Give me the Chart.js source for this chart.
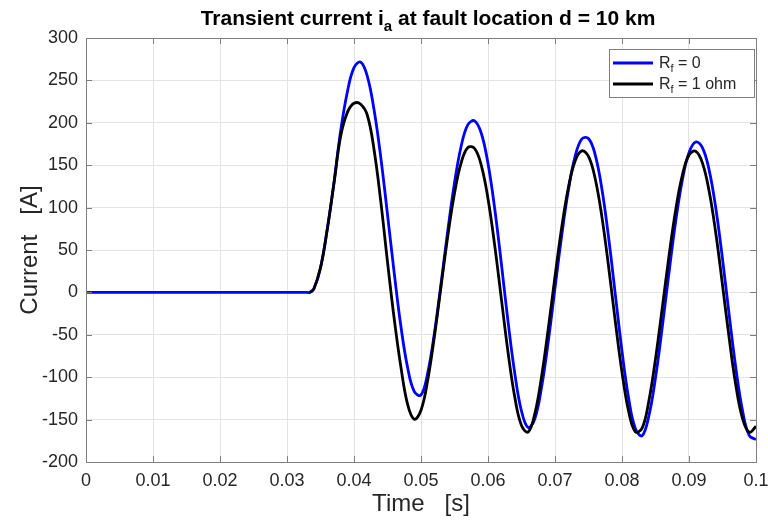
<!DOCTYPE html>
<html>
<head>
<meta charset="utf-8">
<script src="https://cdn.jsdelivr.net/npm/chart.js@4"></script>
<style>
  html, body { margin: 0; padding: 0; background: #fff; }
  canvas { display: block; }
</style>
</head>
<body>
<canvas id="faultChart" width="768" height="520"></canvas>
<script>
// values
const xTicks = [0, 0.01, 0.02, 0.03, 0.04, 0.05, 0.06, 0.07, 0.08, 0.09, 0.1];
const yTicks = [-200, -150, -100, -50, 0, 50, 100, 150, 200, 250, 300];

// time [s]
const time = [0, 0.01, 0.02, 0.03, 0.033, 0.0334,
  0.034, 0.035, 0.036, 0.037, 0.038, 0.039, 0.040, 0.041, 0.042, 0.043, 0.044, 0.045, 0.046, 0.047, 0.048, 0.049,
  0.050, 0.051, 0.052, 0.053, 0.054, 0.055, 0.056, 0.057, 0.058, 0.059, 0.060, 0.061, 0.062, 0.063, 0.064, 0.065,
  0.066, 0.067, 0.068, 0.069, 0.070, 0.071, 0.072, 0.073, 0.074, 0.075, 0.076, 0.077, 0.078, 0.079, 0.080, 0.081,
  0.082, 0.083, 0.084, 0.085, 0.086, 0.087, 0.088, 0.089, 0.090, 0.091, 0.092, 0.093, 0.094, 0.095, 0.096, 0.097,
  0.098, 0.099, 0.100];

// Rf = 0 (blue), whole record
const currentRf0 = [0, 0, 0, 0, 0, 0,
  4, 29, 74, 129, 190, 236, 265, 271.5, 254.5, 215, 159, 92, 23, -40, -88.6, -117,
  -121, -95, -48, 11, 73, 129, 172.6, 197.8, 202.3, 187.7, 152, 99, 33.5, -35, -95.6, -140,
  -159.4, -148.7, -111.5, -57.7, 5, 67, 120.6, 160.3, 180.9, 181.5, 162.3, 122, 64.7, -2.3, -69.3, -125.2,
  -160.7, -169.1, -146, -100.6, -41.5, 22.5, 83, 132.3, 164.8, 177.4, 170.8, 144.5, 99.2, 39.5, -26.7, -89.7,
  -140, -169, -173.5];

// Rf = 1 ohm (black), starts at the fault instant
const currentRf1 = [null, null, null, null, null, 0,
  4, 29, 74, 128, 184, 212, 223, 221.8, 208.6, 168, 107, 36, -31, -88, -132, -149.5,
  -139, -103.6, -52, 7.6, 66.4, 116.8, 153, 170.9, 169.7, 149.8, 110.5, 55.4, -8, -71.2, -123.6, -157,
  -164.6, -142.7, -99, -42.6, 18.7, 76.5, 123.7, 154.9, 166.9, 160.3, 134.1, 89.1, 30.2, -34.2, -94.3, -140.7,
  -164.4, -160.1, -128.4, -78.4, -18.8, 42.2, 96.7, 138, 162, 166.4, 152.7, 119.5, 69.7, 8.7, -54.3, -110.1,
  -149, -164.9, -158];

const axisGray = '#7f7f7f';
const textColor = '#262626';
const fontFamily = '"Liberation Sans", Arial, sans-serif';

function toPoints(ts, vs) {
  return ts.map((t, k) => ({ x: t, y: vs[k] })).filter(p => p.y !== null);
}

// draws "base" + subscript + "rest" starting at x, returns width
function subText(ctx, x, y, base, sub, rest, size, weight, draw) {
  const big = weight + ' ' + size + 'px ' + fontFamily;
  const small = weight + ' ' + Math.round(size * 0.7) + 'px ' + fontFamily;
  ctx.font = big;
  const w1 = ctx.measureText(base).width;
  const w3 = ctx.measureText(rest).width;
  ctx.font = small;
  const w2 = ctx.measureText(sub).width;
  if (draw) {
    ctx.font = big;
    ctx.fillText(base, x, y);
    ctx.fillText(rest, x + w1 + w2, y);
    ctx.font = small;
    ctx.fillText(sub, x + w1, y + size * 0.28);
  }
  return w1 + w2 + w3;
}

const matlabFrame = {
  id: 'matlabFrame',
  beforeDraw(chart) {
    const ctx = chart.ctx;
    ctx.save();
    ctx.fillStyle = '#fff';
    ctx.fillRect(0, 0, chart.width, chart.height);
    ctx.restore();
  },
  afterDraw(chart) {
    const ctx = chart.ctx;
    const a = chart.chartArea;
    const xs = chart.scales.x, ys = chart.scales.y;
    ctx.save();
    // box
    ctx.strokeStyle = axisGray;
    ctx.lineWidth = 1;
    ctx.strokeRect(Math.round(a.left) + 0.5, Math.round(a.top) + 0.5, Math.round(a.right - a.left), Math.round(a.bottom - a.top));
    // inward ticks
    ctx.beginPath();
    xTicks.forEach(v => {
      const px = Math.round(xs.getPixelForValue(v)) + 0.5;
      ctx.moveTo(px, a.bottom); ctx.lineTo(px, a.bottom - 6);
      ctx.moveTo(px, a.top); ctx.lineTo(px, a.top + 6);
    });
    yTicks.forEach(v => {
      const py = Math.round(ys.getPixelForValue(v)) + 0.5;
      ctx.moveTo(a.left, py); ctx.lineTo(a.left + 6, py);
      ctx.moveTo(a.right, py); ctx.lineTo(a.right - 6, py);
    });
    ctx.stroke();

    // title
    ctx.fillStyle = '#000';
    ctx.textBaseline = 'alphabetic';
    ctx.textAlign = 'left';
    const tw = subText(ctx, 0, 0, 'Transient current i', 'a', ' at fault location d = 10 km', 21, 'bold', false);
    subText(ctx, (a.left + a.right) / 2 - tw / 2 + 7, 25, 'Transient current i', 'a', ' at fault location d = 10 km', 21, 'bold', true);

    // legend
    const lx = a.right - 147, ly = a.top + 11, lw = 145, lh = 48;
    ctx.fillStyle = '#fff';
    ctx.fillRect(lx, ly, lw, lh);
    ctx.strokeStyle = axisGray;
    ctx.lineWidth = 1;
    ctx.strokeRect(lx + 0.5, ly + 0.5, lw, lh);
    const entries = [
      { color: '#0000ff', rest: ' = 0' },
      { color: '#000000', rest: ' = 1 ohm' }
    ];
    entries.forEach((e, k) => {
      const yy = ly + 14 + k * 21;
      ctx.strokeStyle = e.color;
      ctx.lineWidth = 2.8;
      ctx.beginPath();
      ctx.moveTo(lx + 4, yy); ctx.lineTo(lx + 44, yy);
      ctx.stroke();
      ctx.fillStyle = textColor;
      subText(ctx, lx + 50, yy + 5, 'R', 'f', e.rest, 16, 'normal', true);
    });
    ctx.restore();
  }
};

const lineStyle = {
  borderWidth: 2.8,
  showLine: true,
  pointRadius: 0,
  tension: 0.4
};

const ctx = document.getElementById('faultChart').getContext('2d');
const chart = new Chart(ctx, {
  type: 'scatter',
  data: {
    datasets: [
      Object.assign({
        label: 'Rf = 1 ohm',
        data: toPoints(time, currentRf1),
        borderColor: '#000000',
        order: 1
      }, lineStyle),
      Object.assign({
        label: 'Rf = 0',
        data: toPoints(time, currentRf0),
        borderColor: '#0000ff',
        order: 2
      }, lineStyle)
    ]
  },
  options: {
    responsive: false,
    animation: false,
    devicePixelRatio: 1,
    layout: { padding: { left: 0, right: 12, top: 38, bottom: 0 } },
    plugins: {
      legend: { display: false },
      title: { display: false },
      tooltip: { enabled: false }
    },
    scales: {
      x: {
        type: 'linear',
        min: 0,
        max: 0.1,
        afterBuildTicks: s => { s.ticks = xTicks.map(v => ({ value: v })); },
        afterFit: s => { s.height = 58; s.paddingLeft = 0; s.paddingRight = 0; },
        ticks: {
          color: textColor,
          padding: 8,
          maxRotation: 0,
          font: { family: fontFamily, size: 18 },
          callback: v => String(parseFloat(v.toFixed(2)))
        },
        grid: { color: '#e3e3e3', drawTicks: false },
        border: { display: false },
        title: {
          display: true,
          text: 'Time   [s]',
          color: textColor,
          font: { family: fontFamily, size: 24 },
          padding: { top: 0, bottom: 1 }
        }
      },
      y: {
        type: 'linear',
        min: -200,
        max: 300,
        afterBuildTicks: s => { s.ticks = yTicks.map(v => ({ value: v })); },
        afterFit: s => { s.width = 86; s.paddingTop = 0; s.paddingBottom = 0; },
        ticks: {
          color: textColor,
          padding: 8,
          font: { family: fontFamily, size: 18 }
        },
        grid: { color: '#e3e3e3', drawTicks: false },
        border: { display: false },
        title: {
          display: true,
          text: 'Current   [A]',
          color: textColor,
          font: { family: fontFamily, size: 24 },
          padding: { top: 16, bottom: 0 }
        }
      }
    }
  },
  plugins: [matlabFrame]
});
</script>
</body>
</html>
